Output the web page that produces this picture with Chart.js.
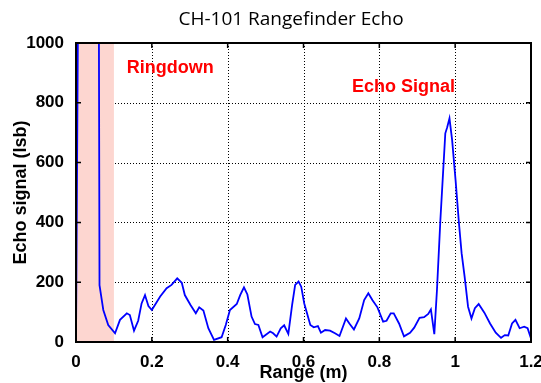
<!DOCTYPE html>
<html>
<head>
<meta charset="utf-8">
<script src="https://cdn.jsdelivr.net/npm/chart.js@4"></script>
<style>
  html, body { margin: 0; padding: 0; background: #fff; }
  #wrap { width: 541px; height: 383px; }
</style>
</head>
<body>
<div id="wrap"><canvas id="chart-0" width="541" height="383"></canvas></div>
<script>
// range (m) and echo amplitude (lsb)
const rangeM = [
  0, 0.006, 0.060, 0.062, 0.072, 0.085, 0.103, 0.116, 0.134, 0.142, 0.153, 0.164, 0.173, 0.182, 0.191,
  0.200, 0.222, 0.239, 0.252, 0.267, 0.279, 0.287, 0.302, 0.316, 0.325, 0.336, 0.349, 0.364, 0.384, 0.395,
  0.406, 0.424, 0.433, 0.443, 0.452, 0.463, 0.472, 0.481, 0.492, 0.512, 0.520, 0.529, 0.540, 0.549, 0.560,
  0.570, 0.578, 0.587, 0.594, 0.602, 0.618, 0.627, 0.638, 0.646, 0.657, 0.670, 0.683, 0.695, 0.712, 0.721,
  0.733, 0.747, 0.760, 0.771, 0.782, 0.795, 0.810, 0.819, 0.830, 0.838, 0.852, 0.865, 0.881, 0.892, 0.906,
  0.918, 0.929, 0.936, 0.945, 0.952, 0.961, 0.968, 0.974, 0.979, 0.985, 0.992, 1.001, 1.010, 1.017, 1.025,
  1.034, 1.043, 1.052, 1.062, 1.077, 1.092, 1.107, 1.121, 1.131, 1.140, 1.150, 1.159, 1.170, 1.182, 1.191,
  1.200
];
const echoLsb = [
  0, 1250, 1250, 190, 107, 57, 29, 74, 96, 90, 38, 71, 129, 157, 120,
  107, 152, 180, 191, 213, 198, 157, 124, 96, 116, 105, 46, 7, 16, 57,
  107, 127, 157, 183, 159, 85, 60, 57, 16, 35, 29, 18, 46, 56, 27,
  124, 191, 202, 185, 129, 57, 49, 53, 31, 40, 38, 29, 20, 79, 62,
  42, 79, 140, 163, 140, 116, 68, 71, 96, 96, 62, 19, 31, 48, 81,
  83, 94, 109, 26, 174, 408, 564, 698, 718, 748, 675, 542, 397, 297, 218,
  118, 79, 113, 127, 98, 62, 31, 14, 23, 22, 62, 74, 46, 51, 46,
  12
];
const xTicks = [0, 0.2, 0.4, 0.6, 0.8, 1, 1.2];
const yTicks = [0, 200, 400, 600, 800, 1000];
const ringdownZone = [0, 0.1];
const noteText = ["Ringdown", "Echo Signal"];
const noteX = [0.134, 0.728];
const noteY = [916, 853];

const points = rangeM.map((r, i) => ({ x: r, y: echoLsb[i] }));

const frame = {
  id: "frame",
  beforeDatasetsDraw(chart) {
    const { ctx, chartArea: a, scales: { x, y } } = chart;
    ctx.save();
    // dotted grid
    ctx.strokeStyle = "#000";
    ctx.lineWidth = 1;
    ctx.setLineDash([1, 2]);
    ctx.beginPath();
    xTicks.forEach(v => {
      const px = Math.round(x.getPixelForValue(v)) + 0.5;
      ctx.moveTo(px, a.top); ctx.lineTo(px, a.bottom);
    });
    yTicks.forEach(v => {
      const py = Math.round(y.getPixelForValue(v)) + 0.5;
      ctx.moveTo(a.left, py); ctx.lineTo(a.right, py);
    });
    ctx.stroke();
    ctx.setLineDash([]);
    // ringdown shading covers the grid
    const x0 = x.getPixelForValue(ringdownZone[0]);
    const x1 = x.getPixelForValue(ringdownZone[1]);
    ctx.fillStyle = "#fdd6d0";
    ctx.fillRect(x0, a.top, x1 - x0, a.bottom - a.top);
    ctx.restore();
  },
  afterDraw(chart) {
    const { ctx, chartArea: a, scales: { x, y } } = chart;
    ctx.save();
    ctx.strokeStyle = "#000";
    ctx.lineWidth = 1.5;
    ctx.beginPath();
    xTicks.forEach(v => {
      const px = x.getPixelForValue(v);
      ctx.moveTo(px, a.bottom); ctx.lineTo(px, a.bottom - 5);
      ctx.moveTo(px, a.top); ctx.lineTo(px, a.top + 5);
    });
    yTicks.forEach(v => {
      const py = y.getPixelForValue(v);
      ctx.moveTo(a.left, py); ctx.lineTo(a.left + 5, py);
      ctx.moveTo(a.right, py); ctx.lineTo(a.right - 5, py);
    });
    ctx.stroke();
    ctx.lineWidth = 2;
    ctx.strokeRect(a.left, a.top, a.right - a.left, a.bottom - a.top);

    ctx.fillStyle = "#ff0000";
    ctx.font = "bold 18px 'Liberation Sans', Arial, sans-serif";
    ctx.textBaseline = "middle";
    ctx.textAlign = "left";
    noteText.forEach((t, i) => {
      ctx.fillText(t, x.getPixelForValue(noteX[i]), y.getPixelForValue(noteY[i]));
    });

    ctx.fillStyle = "#000";
    ctx.font = "19px 'Open Sans', sans-serif";
    ctx.textAlign = "center";
    ctx.fillText("CH-101 Rangefinder Echo", 291, 20);
    ctx.restore();
  }
};

const tickFont = { family: "'Liberation Sans', Arial, sans-serif", size: 17, weight: "bold", lineHeight: 1 };
const titleFont = { family: "'Liberation Sans', Arial, sans-serif", size: 18, weight: "bold", lineHeight: 1 };

new Chart(document.getElementById("chart-0"), {
  type: "line",
  data: {
    datasets: [{
      data: points,
      borderColor: "#0000ff",
      borderWidth: 1.8,
      pointRadius: 0,
      tension: 0,
      fill: false
    }]
  },
  plugins: [frame],
  options: {
    responsive: false,
    animation: false,
    layout: { autoPadding: false, padding: { top: 43, right: 10, bottom: 0, left: 0 } },
    plugins: {
      legend: { display: false },
      tooltip: { enabled: false },
      title: { display: false }
    },
    scales: {
      x: {
        type: "linear",
        min: 0,
        max: 1.2,
        afterBuildTicks: s => { s.ticks = xTicks.map(v => ({ value: v })); },
        afterFit: s => { s.height = 41; s.paddingLeft = 0; s.paddingRight = 0; },
        ticks: {
          color: "#000",
          font: tickFont,
          padding: 4,
          maxRotation: 0,
          callback: v => String(Number(v.toFixed(1)))
        },
        grid: { display: false },
        border: { display: false },
        title: { display: true, text: "Range (m)", color: "#000", font: titleFont, padding: { top: 0, bottom: 0.5 } }
      },
      y: {
        min: 0,
        max: 1000,
        afterBuildTicks: s => { s.ticks = yTicks.map(v => ({ value: v })); },
        afterFit: s => { s.width = 76; s.paddingTop = 0; s.paddingBottom = 0; },
        ticks: { color: "#000", font: tickFont, padding: 4, callback: v => String(v) },
        grid: { display: false },
        border: { display: false },
        title: { display: true, text: "Echo signal (lsb)", color: "#000", font: titleFont, padding: { top: 12, bottom: 0 } }
      }
    }
  }
});
</script>
</body>
</html>
